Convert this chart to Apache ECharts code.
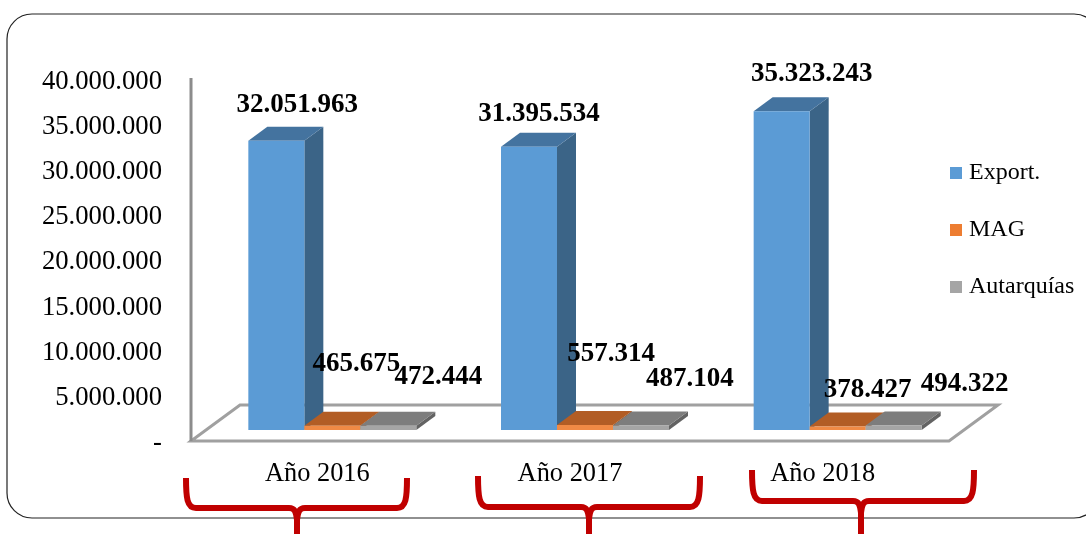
<!DOCTYPE html>
<html><head><meta charset="utf-8">
<style>html,body{margin:0;padding:0;background:#fff}#c{width:1086px;height:534px}</style>
<script src="https://cdn.jsdelivr.net/npm/echarts@6/dist/echarts.min.js"></script>
</head><body><div id="c"></div>
<script>
const categories = ['Año 2016', 'Año 2017', 'Año 2018'];
const seriesNames = ['Export.', 'MAG', 'Autarquías'];
const exportValues = [32051963, 31395534, 35323243];
const magValues = [465675, 557314, 378427];
const autarquiasValues = [472444, 487104, 494322];

// Layout and style tables, separate from the data
const SERIF = '"Liberation Serif", "Times New Roman", serif';
const faces = [
  {front: '#5b9bd5', top: '#44739f', side: '#3b6487'},
  {front: '#f08a45', top: '#b25d25', side: '#8e4a1d'},
  {front: '#a5a5a5', top: '#7d7d7d', side: '#636363'}
];
const legendColors = ['#5b9bd5', '#ed7d31', '#a5a5a5'];
const labelOffsets = [
  [[21, -36], [10, -33], [30, -37]],
  [[24, -62], [26, -71], [30, -37]],
  [[50, -49], [49, -47], [71, -42]]
];
const BAR_FRACTION = 56 / 252.67, DEPTH_X = 19, DEPTH_Y = -14;
const fmt = v => v === 0 ? '-' : String(v).replace(/\B(?=(\d{3})+$)/g, '.');

function render3dBar(s) {
  return function (params, api) {
    const i = api.value(0), v = api.value(1);
    const band = api.size([1, 0])[0], w = band * BAR_FRACTION;
    const base = api.coord([i, 0]), top = api.coord([i, v]);
    const x0 = base[0] + (s - 1) * w - w / 2, x1 = x0 + w, y0 = base[1], y1 = top[1];
    const f = faces[s], off = labelOffsets[s][i];
    const poly = (points, fill) => ({type: 'polygon', shape: {points}, style: {fill, stroke: null}});
    return {type: 'group', children: [
      poly([[x1, y0], [x1 + DEPTH_X, y0 + DEPTH_Y], [x1 + DEPTH_X, y1 + DEPTH_Y], [x1, y1]], f.side),
      poly([[x0, y1], [x1, y1], [x1 + DEPTH_X, y1 + DEPTH_Y], [x0 + DEPTH_X, y1 + DEPTH_Y]], f.top),
      poly([[x0, y0], [x1, y0], [x1, y1], [x0, y1]], f.front),
      {type: 'text', z2: 50, x: (x0 + x1) / 2 + off[0], y: y1 + off[1],
       style: {text: fmt(v), fontFamily: SERIF, fontWeight: 'bold', fontSize: 27, fill: '#000',
               align: 'center', verticalAlign: 'middle'}}
    ]};
  };
}

const RED = '#c00000';
function bracket(xl, xr, xm, yt, yh, yb) {
  const st = {stroke: RED, lineWidth: 6, fill: null, lineCap: 'butt'};
  const curve = (x1, y1, cx1, cy1, cx2, cy2, x2, y2) => ({type: 'bezierCurve', z: 1, silent: true, style: st,
    shape: {x1, y1, cpx1: cx1, cpy1: cy1, cpx2: cx2, cpy2: cy2, x2, y2}});
  const line = (x1, y1, x2, y2) => ({type: 'line', z: 1, silent: true, style: st, shape: {x1, y1, x2, y2}});
  return [
    curve(xl, yt, xl, yt + 20, xl + 1, yh, xl + 10, yh),
    line(xl + 10, yh, xm - 8, yh),
    curve(xm - 8, yh, xm - 2, yh, xm - 1, yh + 4, xm, yh + 12),
    line(xm, yh + 12, xm, yb),
    curve(xr, yt, xr, yt + 20, xr - 1, yh, xr - 10, yh),
    line(xr - 10, yh, xm + 8, yh),
    curve(xm + 8, yh, xm + 2, yh, xm + 1, yh + 4, xm, yh + 12)
  ];
}

const graphics = [
  {type: 'rect', z: 0, silent: true, shape: {x: 7, y: 14, width: 1092, height: 504, r: 25},
   style: {fill: '#fff', stroke: '#222', lineWidth: 1.2}},
  {type: 'polygon', z: 1, silent: true, shape: {points: [[191, 441], [949, 441], [998, 405], [240, 405]]},
   style: {fill: '#fff', stroke: '#a0a0a0', lineWidth: 3}},
  {type: 'line', z: 1, silent: true, shape: {x1: 191, y1: 78, x2: 191, y2: 441},
   style: {stroke: '#8c8c8c', lineWidth: 3}}
].concat(bracket(186, 407, 297, 478, 508, 534), bracket(478, 700, 589, 476, 507, 534), bracket(752, 974, 861, 470, 501, 534));

const valuesBySeries = [exportValues, magValues, autarquiasValues];
const option = {
  animation: false,
  backgroundColor: '#fff',
  textStyle: {fontFamily: SERIF},
  graphic: {elements: graphics},
  legend: {
    orient: 'vertical', left: 945, top: 156, itemWidth: 12, itemHeight: 12, itemGap: 33,
    icon: 'rect', data: seriesNames,
    textStyle: {fontFamily: SERIF, fontSize: 24, color: '#000', padding: [0, 0, 0, 2]}
  },
  grid: [
    {left: 191, top: 81.5, width: 758, height: 361.7},
    {left: 206, top: 69, width: 758, height: 361}
  ],
  xAxis: [
    {type: 'category', gridIndex: 0, data: categories,
     axisLine: {show: false}, axisTick: {show: false},
     axisLabel: {fontFamily: SERIF, fontSize: 26.4, color: '#000', margin: 18}},
    {type: 'category', gridIndex: 1, data: categories, show: false}
  ],
  yAxis: [
    {type: 'value', gridIndex: 0, min: 0, max: 40000000, interval: 5000000,
     axisLine: {show: false},
     axisTick: {show: false}, splitLine: {show: false},
     axisLabel: {fontFamily: SERIF, fontSize: 26.7, color: '#000', margin: 29, formatter: fmt}},
    {type: 'value', gridIndex: 1, min: 0, max: 40000000, show: false, splitLine: {show: false}}
  ],
  series: seriesNames.map((name, s) => ({
    name, type: 'custom', xAxisIndex: 1, yAxisIndex: 1, z: 5 + s, clip: false,
    itemStyle: {color: legendColors[s]},
    encode: {x: 0, y: 1},
    renderItem: render3dBar(s),
    data: valuesBySeries[s].map((v, i) => [i, v])
  }))
};
echarts.init(document.getElementById('c'), null, {renderer: 'canvas'}).setOption(option);
</script></body></html>
